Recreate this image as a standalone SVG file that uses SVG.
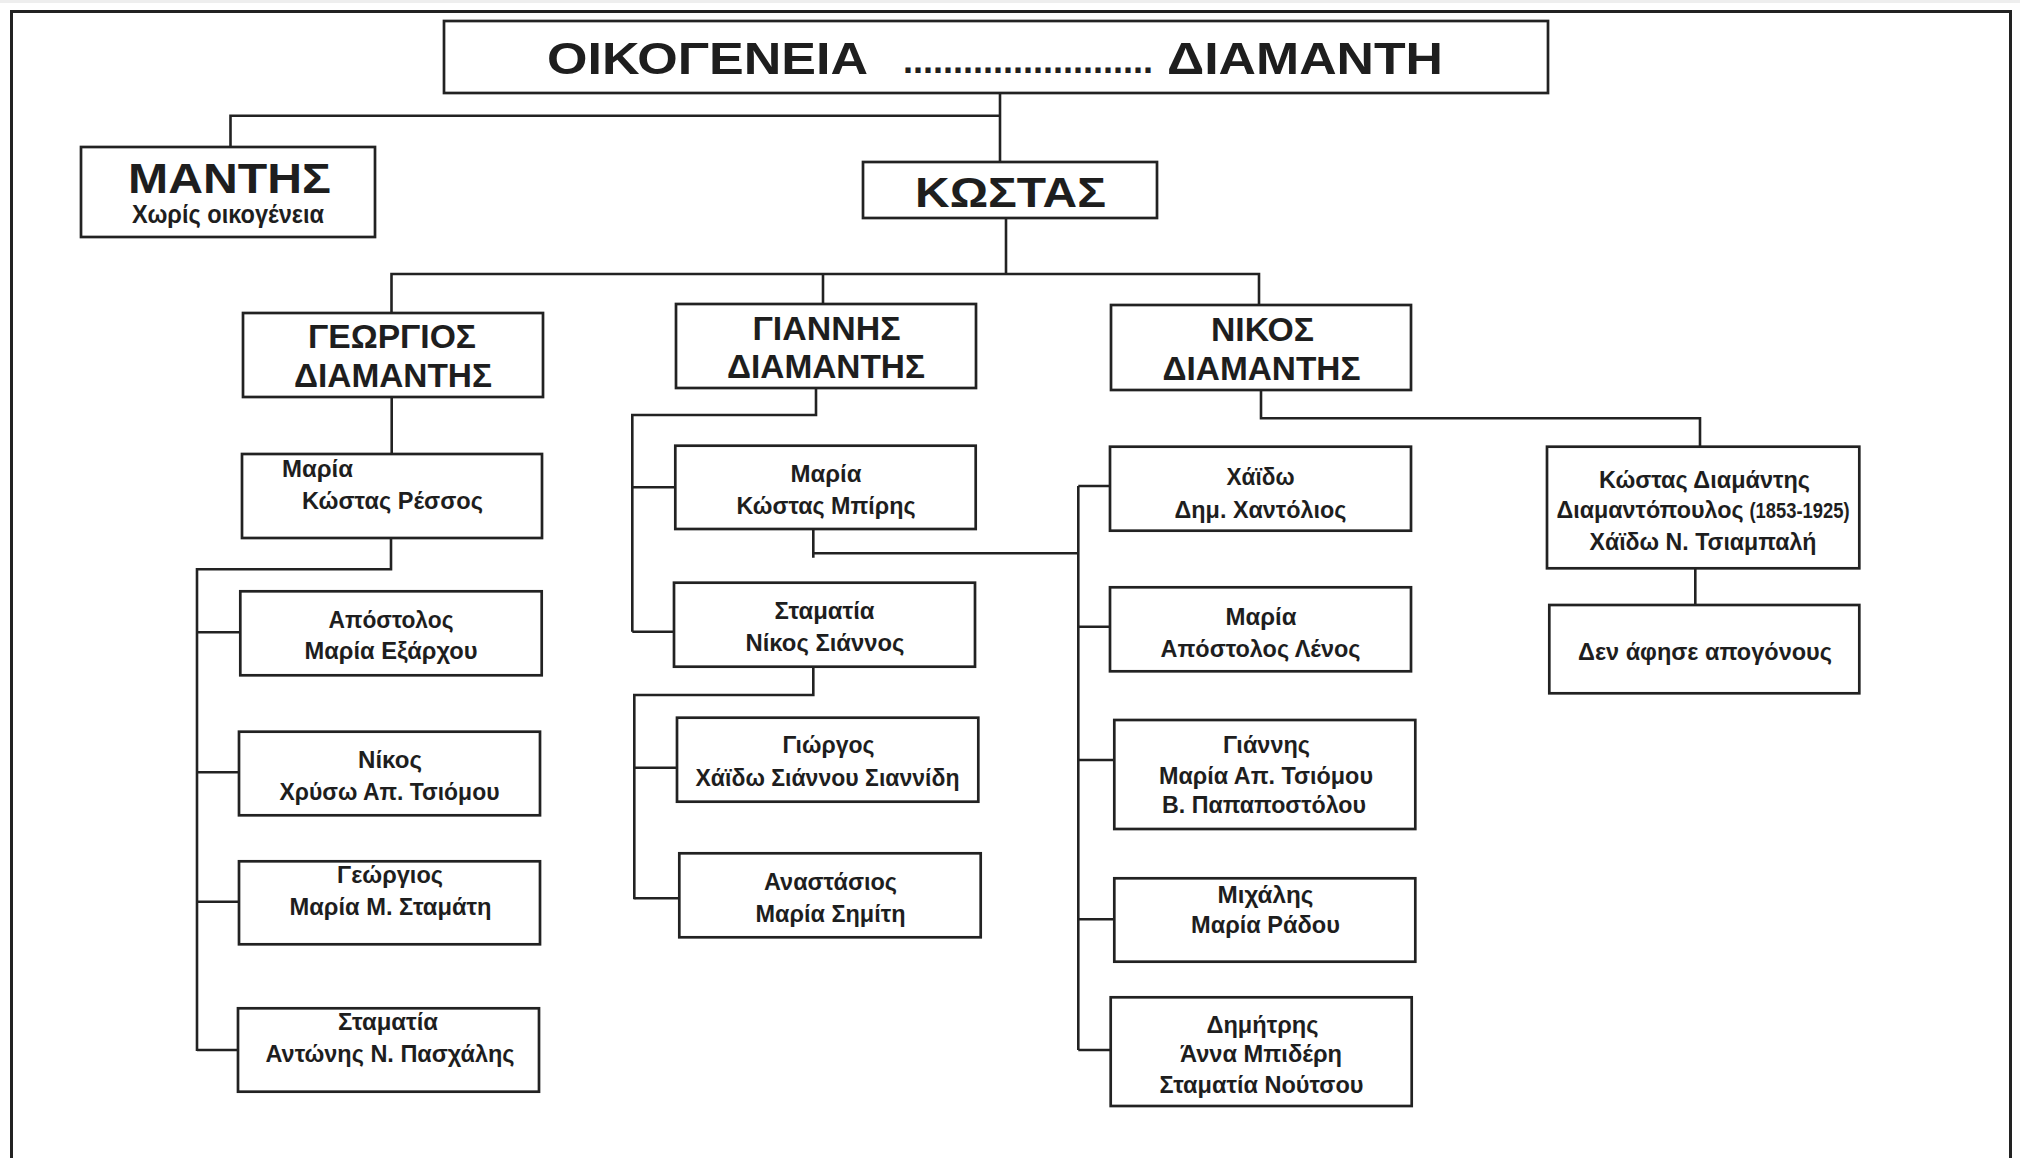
<svg xmlns="http://www.w3.org/2000/svg" width="2020" height="1158" viewBox="0 0 2020 1158">
<style>
.box{fill:#fff;stroke:#222;stroke-width:2.7}
.ln{fill:none;stroke:#222;stroke-width:2.6}
.t{font-family:"Liberation Sans",Arial,sans-serif;font-weight:bold;fill:#1e1e1e}
.s{font-size:24px}
.m{font-size:34px}
.b{font-size:42px}
</style>
<rect x="0" y="0" width="2020" height="1158" fill="#fff"/>
<rect x="0" y="0" width="2020" height="3" fill="#eeeeee"/>
<rect x="11.5" y="11.5" width="1999" height="1170" fill="none" stroke="#222" stroke-width="3"/>

<g id="connectors">
<path class="ln" d="M1000 93V162"/>
<path class="ln" d="M1000 115.7H230.5V147"/>
<path class="ln" d="M1006 218V274"/>
<path class="ln" d="M391.5 313V274H1259V305"/>
<path class="ln" d="M823 274V304"/>
<path class="ln" d="M391.7 397V454"/>
<path class="ln" d="M391 537.7V569.3H197V1051"/>
<path class="ln" d="M197 632.3H240.3M197 772.3H239M197 901.7H239M197 1050H238"/>
<path class="ln" d="M816 388V415H632.3V631.7"/>
<path class="ln" d="M632.3 487.3H675.3M632.3 631.7H674"/>
<path class="ln" d="M813.3 529V557.7M813.3 553.3H1078.3"/>
<path class="ln" d="M813.3 666.7V695H634.3V899.3"/>
<path class="ln" d="M634.3 767.7H677M634.3 898.3H679.3"/>
<path class="ln" d="M1261 390V418.3H1700V446.7"/>
<path class="ln" d="M1078.3 486V1050"/>
<path class="ln" d="M1078.3 486H1110M1078.3 626.7H1110M1078.3 760H1114.3M1078.3 919.3H1114.3M1078.3 1050H1110.7"/>
<path class="ln" d="M1695.3 568.3V605"/>
</g>

<g id="title">
<rect class="box" x="444" y="21" width="1104" height="72"/>
<text class="t" x="547" y="74" font-size="45" textLength="321" lengthAdjust="spacingAndGlyphs">ΟΙΚΟΓΕΝΕΙΑ</text>
<text class="t" x="903" y="73" font-size="36">.........................</text>
<text class="t" x="1167" y="74" font-size="45" textLength="276" lengthAdjust="spacingAndGlyphs">ΔΙΑΜΑΝΤΗ</text>
</g>

<g id="mantis">
<rect class="box" x="81" y="147" width="294" height="90"/>
<text class="t b" x="128" y="192.7" textLength="203" lengthAdjust="spacingAndGlyphs">ΜΑΝΤΗΣ</text>
<text class="t" x="132" y="223.3" font-size="25" textLength="192" lengthAdjust="spacingAndGlyphs">Χωρίς οικογένεια</text>
</g>

<g id="kostas">
<rect class="box" x="863" y="162" width="294" height="56"/>
<text class="t b" x="915" y="206.7" textLength="191" lengthAdjust="spacingAndGlyphs">ΚΩΣΤΑΣ</text>
</g>

<g id="georgios">
<rect class="box" x="243" y="313" width="300" height="84"/>
<text class="t m" x="308" y="348.3" textLength="168" lengthAdjust="spacingAndGlyphs">ΓΕΩΡΓΙΟΣ</text>
<text class="t m" x="294" y="387.3" textLength="198" lengthAdjust="spacingAndGlyphs">ΔΙΑΜΑΝΤΗΣ</text>
</g>

<g id="giannis">
<rect class="box" x="676" y="304" width="300" height="84"/>
<text class="t m" x="752.5" y="340" textLength="148" lengthAdjust="spacingAndGlyphs">ΓΙΑΝΝΗΣ</text>
<text class="t m" x="727" y="378.3" textLength="198" lengthAdjust="spacingAndGlyphs">ΔΙΑΜΑΝΤΗΣ</text>
</g>

<g id="nikos">
<rect class="box" x="1111" y="305" width="300" height="85"/>
<text class="t m" x="1211" y="341" textLength="103" lengthAdjust="spacingAndGlyphs">ΝΙΚΟΣ</text>
<text class="t m" x="1162.5" y="380" textLength="198" lengthAdjust="spacingAndGlyphs">ΔΙΑΜΑΝΤΗΣ</text>
</g>

<g id="g-maria">
<rect class="box" x="242" y="454" width="300" height="84"/>
<text class="t s" x="282" y="477.3" textLength="71" lengthAdjust="spacingAndGlyphs">Μαρία</text>
<text class="t s" x="302" y="509.3" textLength="181" lengthAdjust="spacingAndGlyphs">Κώστας Ρέσσος</text>
</g>

<g id="g-apostolos">
<rect class="box" x="240.3" y="591.3" width="301.4" height="84"/>
<text class="t s" x="328.5" y="628.3" textLength="125" lengthAdjust="spacingAndGlyphs">Απόστολος</text>
<text class="t s" x="304.5" y="659.3" textLength="173" lengthAdjust="spacingAndGlyphs">Μαρία Εξάρχου</text>
</g>

<g id="g-nikos">
<rect class="box" x="239" y="731.7" width="301" height="83.6"/>
<text class="t s" x="358" y="768.3" textLength="64" lengthAdjust="spacingAndGlyphs">Νίκος</text>
<text class="t s" x="279.5" y="800" textLength="220" lengthAdjust="spacingAndGlyphs">Χρύσω Απ. Τσιόμου</text>
</g>

<g id="g-georgios">
<rect class="box" x="239" y="861.3" width="301" height="83"/>
<text class="t s" x="337" y="883.3" textLength="106" lengthAdjust="spacingAndGlyphs">Γεώργιος</text>
<text class="t s" x="289.5" y="915" textLength="202" lengthAdjust="spacingAndGlyphs">Μαρία Μ. Σταμάτη</text>
</g>

<g id="g-stamatia">
<rect class="box" x="238" y="1008.3" width="301" height="83.4"/>
<text class="t s" x="338" y="1030" textLength="100" lengthAdjust="spacingAndGlyphs">Σταματία</text>
<text class="t s" x="265.5" y="1061.7" textLength="249" lengthAdjust="spacingAndGlyphs">Αντώνης Ν. Πασχάλης</text>
</g>

<g id="gi-maria">
<rect class="box" x="675.3" y="445.7" width="300.4" height="83.3"/>
<text class="t s" x="790.5" y="481.7" textLength="71" lengthAdjust="spacingAndGlyphs">Μαρία</text>
<text class="t s" x="736.5" y="514" textLength="179" lengthAdjust="spacingAndGlyphs">Κώστας Μπίρης</text>
</g>

<g id="gi-stamatia">
<rect class="box" x="674" y="582.7" width="301" height="84"/>
<text class="t s" x="774.5" y="619.3" textLength="100" lengthAdjust="spacingAndGlyphs">Σταματία</text>
<text class="t s" x="745.5" y="651" textLength="159" lengthAdjust="spacingAndGlyphs">Νίκος Σιάννος</text>
</g>

<g id="gi-giorgos">
<rect class="box" x="677" y="717.7" width="301.3" height="84"/>
<text class="t s" x="782.5" y="753.3" textLength="92" lengthAdjust="spacingAndGlyphs">Γιώργος</text>
<text class="t s" x="695.5" y="786" textLength="264" lengthAdjust="spacingAndGlyphs">Χάϊδω Σιάννου Σιαννίδη</text>
</g>

<g id="gi-anastasios">
<rect class="box" x="679.3" y="853.3" width="301.4" height="84"/>
<text class="t s" x="764" y="890" textLength="133" lengthAdjust="spacingAndGlyphs">Αναστάσιος</text>
<text class="t s" x="755.5" y="921.7" textLength="150" lengthAdjust="spacingAndGlyphs">Μαρία Σημίτη</text>
</g>

<g id="n-chaido">
<rect class="box" x="1110" y="446.7" width="301" height="84"/>
<text class="t s" x="1226.5" y="485" textLength="68" lengthAdjust="spacingAndGlyphs">Χάϊδω</text>
<text class="t s" x="1174.5" y="518.3" textLength="172" lengthAdjust="spacingAndGlyphs">Δημ. Χαντόλιος</text>
</g>

<g id="n-maria">
<rect class="box" x="1110" y="587.3" width="301" height="84"/>
<text class="t s" x="1225.5" y="625" textLength="71" lengthAdjust="spacingAndGlyphs">Μαρία</text>
<text class="t s" x="1160.5" y="656.7" textLength="200" lengthAdjust="spacingAndGlyphs">Απόστολος Λένος</text>
</g>

<g id="n-giannis">
<rect class="box" x="1114.3" y="720" width="301" height="109"/>
<text class="t s" x="1223" y="753.3" textLength="87" lengthAdjust="spacingAndGlyphs">Γιάννης</text>
<text class="t s" x="1159" y="784.3" textLength="214" lengthAdjust="spacingAndGlyphs">Μαρία Απ. Τσιόμου</text>
<text class="t s" x="1162" y="813.3" textLength="204" lengthAdjust="spacingAndGlyphs">Β. Παπαποστόλου</text>
</g>

<g id="n-michalis">
<rect class="box" x="1114.3" y="878.3" width="301" height="83.4"/>
<text class="t s" x="1217.5" y="903.3" textLength="96" lengthAdjust="spacingAndGlyphs">Μιχάλης</text>
<text class="t s" x="1191" y="933.3" textLength="149" lengthAdjust="spacingAndGlyphs">Μαρία Ράδου</text>
</g>

<g id="n-dimitris">
<rect class="box" x="1110.7" y="997.3" width="301" height="108.7"/>
<text class="t s" x="1206.5" y="1033.3" textLength="112" lengthAdjust="spacingAndGlyphs">Δημήτρης</text>
<text class="t s" x="1180" y="1061.7" textLength="162" lengthAdjust="spacingAndGlyphs">Άννα Μπιδέρη</text>
<text class="t s" x="1159.5" y="1093.3" textLength="204" lengthAdjust="spacingAndGlyphs">Σταματία Νούτσου</text>
</g>

<g id="kostas-diamantis">
<rect class="box" x="1547" y="446.7" width="312.3" height="121.6"/>
<text class="t s" x="1599" y="488.3" textLength="211" lengthAdjust="spacingAndGlyphs">Κώστας Διαμάντης</text>
<text class="t s" x="1556.5" y="518.3" textLength="187" lengthAdjust="spacingAndGlyphs">Διαμαντόπουλος</text>
<text class="t" x="1749.5" y="518.3" font-size="22" textLength="100" lengthAdjust="spacingAndGlyphs">(1853-1925)</text>
<text class="t s" x="1589.5" y="550" textLength="227" lengthAdjust="spacingAndGlyphs">Χάϊδω Ν. Τσιαμπαλή</text>
</g>

<g id="no-descendants">
<rect class="box" x="1549.3" y="605" width="310" height="88.3"/>
<text class="t s" x="1578" y="660" textLength="254" lengthAdjust="spacingAndGlyphs">Δεν άφησε απογόνους</text>
</g>
</svg>
